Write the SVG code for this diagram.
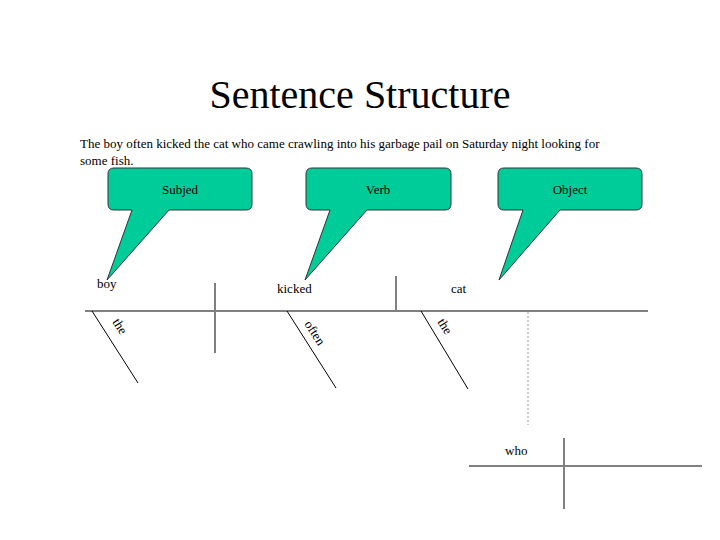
<svg xmlns="http://www.w3.org/2000/svg" width="720" height="540" viewBox="0 0 720 540">
<style>
text{font-family:"Liberation Serif",serif;fill:#000}
.c{fill:#00cc99;stroke:#333;stroke-width:1;stroke-linejoin:round}
.l{stroke:#808080;stroke-width:2;fill:none}
.s{stroke:#000;stroke-width:1;fill:none}
.w{font-size:13px}
</style>
<rect width="720" height="540" fill="#fff"/>
<text x="360" y="108" font-size="40" text-anchor="middle">Sentence Structure</text>
<text x="80" y="148" font-size="13">The boy often kicked the cat who came crawling into his garbage pail on Saturday night looking for</text>
<text x="80" y="165" font-size="13">some fish.</text>
<g id="subj"><path class="c" d="M114,168 H246 Q252,168 252,174 V204 Q252,210 246,210 H169 L107,280 L132,210 H114 Q108,210 108,204 V174 Q108,168 114,168 Z"/><text x="180" y="194" class="w" text-anchor="middle">Subjed</text></g>
<g id="verb"><path class="c" d="M312,168 H445 Q451,168 451,174 V204 Q451,210 445,210 H367 L305,280 L330,210 H312 Q306,210 306,204 V174 Q306,168 312,168 Z"/><text x="378" y="194" class="w" text-anchor="middle">Verb</text></g>
<g id="obj"><path class="c" d="M504,168 H636 Q642,168 642,174 V204 Q642,210 636,210 H560 L499,280 L523,210 H504 Q498,210 498,204 V174 Q498,168 504,168 Z"/><text x="570" y="194" class="w" text-anchor="middle">Object</text></g>
<g id="lines">
<path class="l" d="M85,311 H648 M215,283 V353 M396,276 V311 M469,466 H702 M564,438 V509"/>
<path class="s" d="M92,311 L138,383 M287,311 L336,388 M421,311 L468,389"/>
<path d="M528,312 V425" stroke="#999" stroke-width="1" stroke-dasharray="2,2"/>
</g>
<g id="words" class="w">
<text x="97" y="288" class="w">boy</text>
<text x="277" y="293" class="w">kicked</text>
<text x="451" y="293" class="w">cat</text>
<text x="505" y="455" class="w">who</text>
<text class="w" transform="translate(112,322) rotate(57)">the</text>
<text class="w" transform="translate(304,324) rotate(57)">often</text>
<text class="w" transform="translate(437,322) rotate(57)">the</text>
</g>
</svg>
